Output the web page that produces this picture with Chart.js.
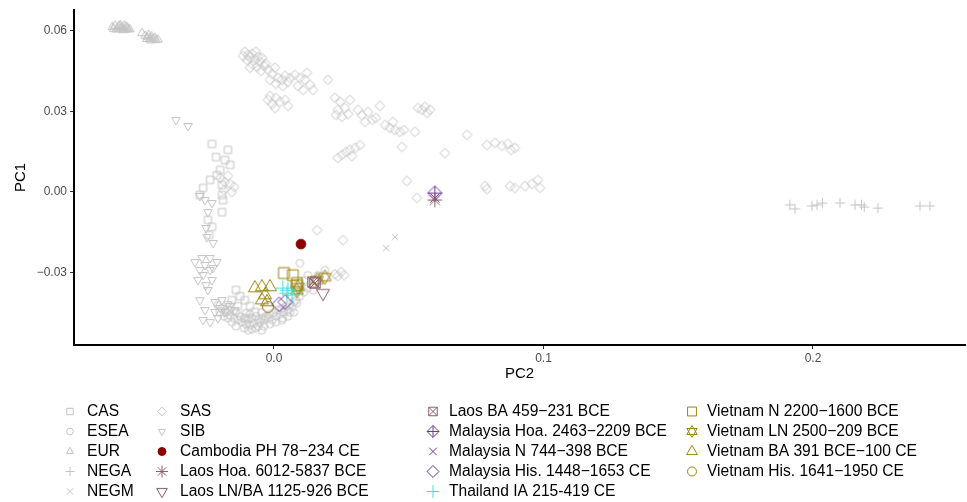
<!DOCTYPE html>
<html>
<head>
<meta charset="utf-8">
<script src="https://cdn.jsdelivr.net/npm/chart.js@4.4.1/dist/chart.umd.min.js"></script>
<style>
  html, body { margin: 0; padding: 0; background: #fff; overflow: hidden; }
  #wrap { width: 967px; height: 502px; }
</style>
</head>
<body>
<div id="wrap"><canvas id="pcaChart"></canvas></div>
<script>
// axis ranges and ticks
const xTicks = [0, 0.1, 0.2];
const yTicks = [-0.03, 0, 0.03, 0.06];
const xRange = [-0.0742, 0.2564];
const yRange = [-0.0570, 0.0678];

// reference populations (PC2, PC1)
const casPts = [[-0.0230,0.0179],[-0.0215,0.0130],[-0.0182,0.0119],[-0.0200,0.0082],[-0.0212,0.0063],[-0.0237,0.0045],
  [-0.0193,0.0026],[-0.0263,0.0015],[-0.0275,-0.0011],[-0.0193,-0.0011],[-0.0189,-0.0030],[-0.0193,-0.0075],
  [-0.0245,-0.0104],[-0.0230,-0.0130],[-0.0241,-0.0160],[-0.0171,0.0157],[-0.0163,0.0101],[-0.0141,-0.0365],
  [-0.0126,-0.0388],[-0.0108,-0.0403],[-0.0156,-0.0403],[-0.0089,-0.0425],[-0.0134,-0.0425],[-0.0171,-0.0440],
  [-0.0071,-0.0447],[-0.0104,-0.0470],[-0.0200,-0.0447]];
const eseaPts = [[-0.0208,-0.0421],[-0.0193,-0.0433],[-0.0178,-0.0448],[-0.0163,-0.0459],[-0.0148,-0.0470],[-0.0134,-0.0477],
  [-0.0119,-0.0485],[-0.0104,-0.0492],[-0.0089,-0.0496],[-0.0074,-0.0489],[-0.0059,-0.0477],[-0.0045,-0.0470],
  [-0.0030,-0.0463],[-0.0015,-0.0455],[0.0000,-0.0448],[0.0015,-0.0440],[0.0030,-0.0433],[0.0045,-0.0425],
  [0.0059,-0.0418],[0.0074,-0.0410],[-0.0126,-0.0463],[-0.0111,-0.0470],[-0.0096,-0.0477],[-0.0082,-0.0470],
  [-0.0067,-0.0463],[-0.0052,-0.0485],[-0.0037,-0.0477],[-0.0022,-0.0470],[-0.0141,-0.0500],[-0.0111,-0.0507],
  [-0.0082,-0.0511],[-0.0059,-0.0500],[-0.0007,-0.0477],[0.0007,-0.0463],[0.0022,-0.0455],[0.0037,-0.0448],
  [0.0052,-0.0440],[0.0067,-0.0429],[0.0082,-0.0403],[0.0096,-0.0388],[0.0111,-0.0373],[0.0126,-0.0358],
  [-0.0156,-0.0485],[-0.0171,-0.0470],[-0.0104,-0.0451],[-0.0045,-0.0448],[0.0096,-0.0265],[0.0126,-0.0310],
  [0.0085,-0.0414],[0.0059,-0.0448],[0.0189,-0.0291],[0.0163,-0.0310],[0.0145,-0.0366],[0.0115,-0.0328],[0.0033,-0.0470],
  [-0.0141,-0.0448],[-0.0089,-0.0455],[-0.0067,-0.0507],[-0.0037,-0.0500],[-0.0015,-0.0492],[0.0007,-0.0485],
  [0.0030,-0.0477],[0.0052,-0.0463],[0.0074,-0.0448],[-0.0163,-0.0440],[-0.0186,-0.0463],[-0.0096,-0.0515],[-0.0045,-0.0515]];
const eurPts = [[-0.0600,0.0615],[-0.0590,0.0620],[-0.0580,0.0612],[-0.0575,0.0618],[-0.0570,0.0608],[-0.0565,0.0615],
  [-0.0560,0.0610],[-0.0555,0.0620],[-0.0550,0.0605],[-0.0545,0.0612],[-0.0540,0.0608],[-0.0585,0.0605],
  [-0.0595,0.0608],[-0.0570,0.0622],[-0.0560,0.0603],[-0.0548,0.0616],[-0.0535,0.0606],
  [-0.0490,0.0592],[-0.0478,0.0582],[-0.0470,0.0577],[-0.0465,0.0585],[-0.0460,0.0572],[-0.0455,0.0580],
  [-0.0448,0.0570],[-0.0442,0.0575],[-0.0438,0.0566],[-0.0430,0.0568],[-0.0472,0.0570],[-0.0458,0.0565]];
const negaPts = [[0.1914,-0.0048],[0.1933,-0.0063],[0.1996,-0.0052],[0.2015,-0.0048],[0.2035,-0.0041],[0.2100,-0.0041],
  [0.2156,-0.0048],[0.2180,-0.0048],[0.2190,-0.0056],[0.2241,-0.0060],[0.2397,-0.0052],[0.2434,-0.0052]];
const negmPts = [[0.0416,-0.0209],[0.0449,-0.0168]];
const sasPts = [[-0.0108,0.0522],[-0.0096,0.0511],[-0.0089,0.0500],[-0.0082,0.0515],[-0.0071,0.0492],[-0.0059,0.0504],
  [-0.0052,0.0485],[-0.0100,0.0492],[-0.0078,0.0474],[-0.0063,0.0466],[-0.0045,0.0500],[-0.0037,0.0470],
  [-0.0089,0.0463],[-0.0115,0.0507],[-0.0067,0.0522],[-0.0048,0.0451],[-0.0030,0.0477],[-0.0022,0.0455],
  [-0.0007,0.0440],[0.0004,0.0463],[0.0015,0.0425],[0.0030,0.0418],[0.0041,0.0433],[0.0052,0.0410],
  [0.0059,0.0425],[0.0033,0.0395],[0.0007,0.0403],[-0.0015,0.0418],[0.0078,0.0436],[0.0096,0.0425],
  [0.0115,0.0418],[0.0134,0.0399],[0.0089,0.0395],[0.0108,0.0380],[0.0145,0.0380],[0.0122,0.0444],
  [-0.0022,0.0343],[-0.0007,0.0328],[0.0007,0.0351],[0.0022,0.0336],[0.0041,0.0343],[0.0052,0.0321],
  [0.0004,0.0313],[-0.0015,0.0358],[0.0200,0.0418],[0.0226,0.0351],[0.0245,0.0336],[0.0237,0.0306],
  [0.0263,0.0313],[0.0275,0.0291],[0.0252,0.0280],[0.0282,0.0343],[0.0230,0.0287],[0.0312,0.0306],
  [0.0326,0.0287],[0.0349,0.0298],[0.0364,0.0269],[0.0378,0.0276],[0.0393,0.0321],[0.0338,0.0261],
  [0.0412,0.0250],[0.0430,0.0239],[0.0449,0.0231],[0.0467,0.0224],[0.0482,0.0231],[0.0441,0.0261],
  [0.0523,0.0224],[0.0534,0.0313],[0.0549,0.0306],[0.0560,0.0317],[0.0579,0.0306],[0.0568,0.0295],
  [0.0716,0.0213],[0.0790,0.0175],[0.0820,0.0183],[0.0846,0.0172],[0.0868,0.0179],[0.0894,0.0164],
  [0.0879,0.0157],[0.0237,0.0127],[0.0252,0.0138],[0.0267,0.0149],[0.0282,0.0157],[0.0301,0.0164],
  [0.0319,0.0175],[0.0289,0.0134],[0.0475,0.0168],[0.0634,0.0145],[0.0493,0.0041],[0.0256,-0.0179],
  [0.0160,-0.0142],[0.0530,-0.0022],[0.0783,0.0022],[0.0790,0.0011],[0.0876,0.0022],[0.0894,0.0015],
  [0.0931,0.0022],[0.0957,0.0030],[0.0979,0.0045],[0.0987,0.0015],[-0.0200,0.0052],[-0.0182,0.0037],
  [-0.0163,0.0030],[-0.0171,0.0060],[-0.0148,0.0019],[-0.0186,0.0007],[-0.0156,0.0000],
  [0.0226,-0.0306],[0.0237,-0.0313],[0.0249,-0.0298],[0.0260,-0.0310]];
const sibPts = [[-0.0364,0.0268],[-0.0319,0.0246],[-0.0275,-0.0015],[-0.0256,-0.0030],[-0.0230,-0.0041],
  [-0.0249,-0.0168],[-0.0226,-0.0190],[-0.0267,-0.0246],[-0.0212,-0.0261],[-0.0256,-0.0272],[-0.0237,-0.0291],
  [-0.0263,-0.0309],[-0.0282,-0.0328],[-0.0230,-0.0328],[-0.0245,-0.0365],[-0.0256,-0.0440],[-0.0219,-0.0447],
  [-0.0200,-0.0432],[-0.0182,-0.0447],[-0.0275,-0.0403],[-0.0293,-0.0261],[-0.0237,-0.0246],[-0.0263,-0.0477],
  [-0.0237,-0.0485],[-0.0163,-0.0425],[-0.0226,-0.0283],[-0.0252,-0.0347],[-0.0275,-0.0291],[-0.0245,-0.0075],
  [-0.0252,-0.0134],[-0.0219,-0.0410],[-0.0193,-0.0403],[-0.0171,-0.0418],[-0.0208,-0.0470],[-0.0145,-0.0440]];

// ancient samples
const cambodiaPh = [[0.0100,-0.0194]];
const laosHoa = [[0.0597,-0.0030]];
const laosLnBa = [[0.0182,-0.0377]];
const laosBa = [[0.0145,-0.0336],[0.0152,-0.0339]];
const malaysiaHoa = [[0.0597,-0.0004]];
const malaysiaN = [[0.0597,-0.0022]];
const malaysiaHis = [[0.0019,-0.0418],[0.0041,-0.0410]];
const thailandIa = [[0.0033,-0.0358],[0.0052,-0.0366],[0.0067,-0.0384],[0.0048,-0.0377]];
const vietnamN = [[0.0037,-0.0302],[0.0070,-0.0310],[0.0085,-0.0339],[0.0085,-0.0347]];
const vietnamLn = [[0.0189,-0.0317],[0.0160,-0.0328],[0.0085,-0.0366],[0.0089,-0.0354]];
const vietnamBa = [[-0.0071,-0.0358],[-0.0045,-0.0354],[-0.0015,-0.0354],[-0.0033,-0.0384],[-0.0026,-0.0410],[-0.0045,-0.0403]];
const vietnamHis = [[-0.0022,-0.0429]];

const GREY = '#c4c4c4';
const LAOS = '#8d5f69';
const MALAY = '#6a3d9a';
const THAI = '#3ee0e0';
const VIET = '#9a8410';

const groups = [
  { label: 'CAS', pts: casPts, shape: 'square', color: GREY, r: 3.6, bg: true },
  { label: 'ESEA', pts: eseaPts, shape: 'circle', color: GREY, r: 3.6, bg: true },
  { label: 'EUR', pts: eurPts, shape: 'triUp', color: GREY, r: 3.8, bg: true },
  { label: 'NEGA', pts: negaPts, shape: 'plus', color: GREY, r: 3.6, bg: true },
  { label: 'NEGM', pts: negmPts, shape: 'cross', color: GREY, r: 3.2, bg: true },
  { label: 'SAS', pts: sasPts, shape: 'diamond', color: GREY, r: 3.6, bg: true },
  { label: 'SIB', pts: sibPts, shape: 'triDown', color: GREY, r: 3.8, bg: true },
  { label: 'Cambodia PH 78\u2212234 CE', pts: cambodiaPh, shape: 'dot', color: '#8b0000', r: 4.4 },
  { label: 'Laos Hoa. 6012-5837 BCE', pts: laosHoa, shape: 'asterisk', color: LAOS, r: 5.4 },
  { label: 'Laos LN/BA 1125-926 BCE', pts: laosLnBa, shape: 'triDown', color: LAOS, r: 5.8 },
  { label: 'Laos BA 459\u2212231 BCE', pts: laosBa, shape: 'squareX', color: LAOS, r: 5.2 },
  { label: 'Malaysia Hoa. 2463\u22122209 BCE', pts: malaysiaHoa, shape: 'diamondPlus', color: MALAY, r: 5.4 },
  { label: 'Malaysia N 744\u2212398 BCE', pts: malaysiaN, shape: 'cross', color: MALAY, r: 4.6 },
  { label: 'Malaysia His. 1448\u22121653 CE', pts: malaysiaHis, shape: 'diamond', color: MALAY, r: 5.4 },
  { label: 'Thailand IA 215-419 CE', pts: thailandIa, shape: 'plus', color: THAI, r: 5.6 },
  { label: 'Vietnam N 2200\u22121600 BCE', pts: vietnamN, shape: 'square', color: VIET, r: 5.4 },
  { label: 'Vietnam LN 2500\u2212209 BCE', pts: vietnamLn, shape: 'star6', color: VIET, r: 5.6 },
  { label: 'Vietnam BA 391 BCE\u2212100 CE', pts: vietnamBa, shape: 'triUp', color: VIET, r: 5.8 },
  { label: 'Vietnam His. 1641\u22121950 CE', pts: vietnamHis, shape: 'circle', color: VIET, r: 5.2 }
];

const legendCols = [
  ['CAS', 'ESEA', 'EUR', 'NEGA', 'NEGM'],
  ['SAS', 'SIB', 'Cambodia PH 78\u2212234 CE', 'Laos Hoa. 6012-5837 BCE', 'Laos LN/BA 1125-926 BCE'],
  ['Laos BA 459\u2212231 BCE', 'Malaysia Hoa. 2463\u22122209 BCE', 'Malaysia N 744\u2212398 BCE',
   'Malaysia His. 1448\u22121653 CE', 'Thailand IA 215-419 CE'],
  ['Vietnam N 2200\u22121600 BCE', 'Vietnam LN 2500\u2212209 BCE', 'Vietnam BA 391 BCE\u2212100 CE',
   'Vietnam His. 1641\u22121950 CE']
];

function drawShape(ctx, shape, x, y, r, color) {
  ctx.save();
  ctx.strokeStyle = color;
  ctx.fillStyle = color;
  ctx.lineWidth = 1;
  const tri = (dir) => {
    const R = r * 1.3;
    ctx.moveTo(x, y - dir * R);
    ctx.lineTo(x + R * 0.866, y + dir * R * 0.5);
    ctx.lineTo(x - R * 0.866, y + dir * R * 0.5);
    ctx.closePath();
  };
  const plus = (R) => {
    ctx.moveTo(x - R, y); ctx.lineTo(x + R, y);
    ctx.moveTo(x, y - R); ctx.lineTo(x, y + R);
  };
  const cross = (R) => {
    ctx.moveTo(x - R, y - R); ctx.lineTo(x + R, y + R);
    ctx.moveTo(x - R, y + R); ctx.lineTo(x + R, y - R);
  };
  const diamond = (R) => {
    ctx.moveTo(x, y - R); ctx.lineTo(x + R, y); ctx.lineTo(x, y + R); ctx.lineTo(x - R, y);
    ctx.closePath();
  };
  ctx.beginPath();
  switch (shape) {
    case 'square': ctx.rect(x - r, y - r, 2 * r, 2 * r); break;
    case 'circle': ctx.arc(x, y, r * 1.05, 0, Math.PI * 2); break;
    case 'triUp': tri(1); break;
    case 'triDown': tri(-1); break;
    case 'plus': plus(r * 1.4); break;
    case 'cross': cross(r); break;
    case 'diamond': diamond(r * 1.35); break;
    case 'asterisk': plus(r * 1.35); cross(r * 0.95); break;
    case 'squareX': ctx.rect(x - r, y - r, 2 * r, 2 * r); cross(r); break;
    case 'diamondPlus': diamond(r * 1.35); plus(r * 1.35); break;
    case 'star6': tri(1); tri(-1); break;
    case 'dot': ctx.arc(x, y, r * 1.1, 0, Math.PI * 2); ctx.fill(); break;
  }
  ctx.stroke();
  ctx.restore();
}

function makeIcon(shape, color, r) {
  const size = Math.ceil(r * 3 + 4);
  const c = document.createElement('canvas');
  c.width = size; c.height = size;
  drawShape(c.getContext('2d'), shape, size / 2, size / 2, r, color);
  return c;
}

const legendPlugin = {
  id: 'columnLegend',
  afterDraw(chart) {
    const ctx = chart.ctx;
    const colIcon = [70, 162, 433, 692];
    const colText = [87, 180, 449, 707];
    ctx.save();
    ctx.font = '15.6px "Liberation Sans", Arial, sans-serif';
    ctx.fillStyle = '#000';
    ctx.textBaseline = 'middle';
    legendCols.forEach((col, ci) => {
      col.forEach((label, ri) => {
        const g = groups.find(d => d.label === label);
        const y = 411.5 + ri * 20;
        drawShape(ctx, g.shape, colIcon[ci], y, g.bg ? 3.2 : g.r * 0.82, g.color);
        ctx.fillText(label, colText[ci], y);
      });
    });
    // axis titles
    ctx.font = '15px "Liberation Sans", Arial, sans-serif';
    ctx.textAlign = 'center';
    const area = chart.chartArea;
    ctx.fillText('PC2', (area.left + area.right) / 2, 374);
    ctx.translate(21, (area.top + area.bottom) / 2);
    ctx.rotate(-Math.PI / 2);
    ctx.fillText('PC1', 0, 0);
    ctx.restore();
  }
};

const datasets = groups.map(g => ({
  label: g.label,
  data: g.pts.map(p => ({ x: p[0], y: p[1] })),
  pointStyle: makeIcon(g.shape, g.color, g.r),
  pointRadius: g.r,
  order: g.bg ? 2 : 1
}));

const tickFont = { family: '"Liberation Sans", Arial, sans-serif', size: 12 };

new Chart(document.getElementById('pcaChart').getContext('2d'), {
  type: 'scatter',
  data: { datasets },
  options: {
    responsive: true,
    maintainAspectRatio: false,
    animation: false,
    layout: { autoPadding: false, padding: { top: 10, right: 2, bottom: 0, left: 0 } },
    plugins: { legend: { display: false }, tooltip: { enabled: false } },
    scales: {
      x: {
        type: 'linear',
        min: xRange[0],
        max: xRange[1],
        afterBuildTicks: s => { s.ticks = xTicks.map(v => ({ value: v })); },
        afterFit: s => { s.height = 157; s.paddingLeft = 0; s.paddingRight = 0; },
        ticks: { color: '#4d4d4d', font: tickFont, padding: 2, maxRotation: 0,
          callback: v => v.toFixed(1) },
        grid: { display: true, drawOnChartArea: false, drawTicks: true, tickLength: 4,
          tickColor: '#333', tickWidth: 1 },
        border: { display: true, color: '#000', width: 2 }
      },
      y: {
        type: 'linear',
        min: yRange[0],
        max: yRange[1],
        afterBuildTicks: s => { s.ticks = yTicks.map(v => ({ value: v })); },
        afterFit: s => { s.width = 74; s.paddingTop = 0; s.paddingBottom = 0; },
        ticks: { color: '#4d4d4d', font: tickFont, padding: 3,
          callback: v => (v < -1e-9 ? '\u2212' : '') + Math.abs(v).toFixed(2) },
        grid: { display: true, drawOnChartArea: false, drawTicks: true, tickLength: 4,
          tickColor: '#333', tickWidth: 1 },
        border: { display: true, color: '#000', width: 2 }
      }
    }
  },
  plugins: [legendPlugin]
});
</script>
</body>
</html>
